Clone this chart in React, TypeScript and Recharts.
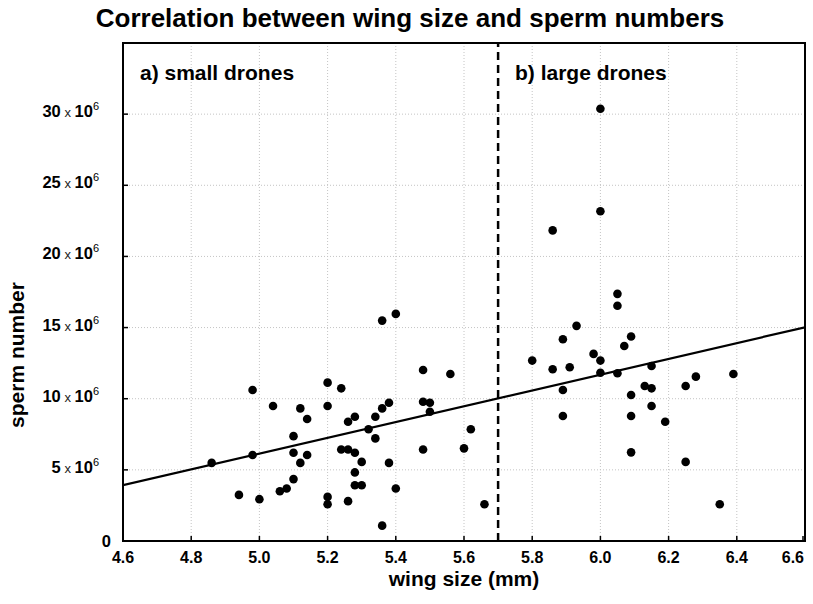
import React from 'react'
import {
  ScatterChart,
  Scatter,
  XAxis,
  YAxis,
  CartesianGrid,
  ReferenceLine,
  ReferenceArea,
} from 'recharts'

// wing size (mm) of each drone
const wingSize = [
  4.86, 4.94, 4.98, 4.98, 5.0, 5.04, 5.06, 5.08, 5.1, 5.1,
  5.1, 5.12, 5.12, 5.14, 5.14, 5.2, 5.2, 5.2, 5.2, 5.24,
  5.24, 5.26, 5.26, 5.26, 5.28, 5.28, 5.28, 5.28, 5.3, 5.3,
  5.32, 5.34, 5.34, 5.36, 5.36, 5.36, 5.38, 5.38, 5.4, 5.4,
  5.48, 5.48, 5.48, 5.5, 5.5, 5.56, 5.6, 5.62, 5.66,
  5.8, 5.86, 5.86, 5.89, 5.89, 5.89, 5.91, 5.93, 5.98, 6.0,
  6.0, 6.0, 6.0, 6.05, 6.05, 6.05, 6.07, 6.09, 6.09, 6.09,
  6.09, 6.13, 6.15, 6.15, 6.15, 6.19, 6.25, 6.25, 6.28, 6.35,
  6.39,
]

// sperm number, in millions
const spermCount = [
  5.49, 3.24, 10.61, 6.04, 2.94, 9.49, 3.5, 3.69, 7.37, 6.2,
  4.35, 9.32, 5.49, 8.57, 6.04, 11.13, 9.49, 3.1, 2.58, 10.73,
  6.43, 6.43, 8.38, 2.8, 8.73, 6.2, 4.82, 3.92, 5.56, 3.92,
  7.85, 8.73, 7.21, 9.32, 15.49, 1.08, 9.72, 5.49, 15.96, 3.69,
  12.02, 9.79, 6.43, 9.72, 9.08, 11.74, 6.51, 7.85, 2.58,
  12.68, 21.83, 12.07, 14.18, 10.61, 8.78, 12.21, 15.12, 13.15, 30.38,
  23.17, 12.68, 11.83, 17.37, 16.53, 11.79, 13.71, 14.37, 10.26, 8.78,
  6.23, 10.89, 10.73, 12.3, 9.49, 8.38, 10.89, 5.56, 11.55, 2.58,
  11.74,
]

// regression line end points
const fitWing = [4.6, 6.6]
const fitSperm = [3.92, 15.02]

const xTicks = [4.6, 4.8, 5.0, 5.2, 5.4, 5.6, 5.8, 6.0, 6.2, 6.4, 6.6]
const yTicks = [0, 5, 10, 15, 20, 25, 30]
const splitWing = 5.7

const points = wingSize.map((w, i) => ({ x: w, y: spermCount[i] }))
const fitData = fitWing.map((w, i) => ({ x: w, y: fitSperm[i] }))

const FONT = 'Arial, "Liberation Sans", sans-serif'
const TICK = 5

function BottomTick(props: any) {
  const { x, y, payload } = props
  const last = payload.value === xTicks[xTicks.length - 1]
  return (
    <g>
      <line x1={x} y1={y} x2={x} y2={y - TICK} stroke="#000" strokeWidth={1.5} />
      <text
        x={last ? x + 1 : x}
        y={y + 22}
        textAnchor={last ? 'end' : 'middle'}
        fontFamily={FONT}
        fontWeight="bold"
        fontSize={16}
        fill="#000"
      >
        {payload.value.toFixed(1)}
      </text>
    </g>
  )
}

function TopTick(props: any) {
  const { x, y } = props
  return <line x1={x} y1={y} x2={x} y2={y + TICK} stroke="#000" strokeWidth={1.5} />
}

function LeftTick(props: any) {
  const { x, y, payload } = props
  const v = payload.value
  return (
    <g>
      <line x1={x} y1={y} x2={x + TICK} y2={y} stroke="#000" strokeWidth={1.5} />
      {v === 0 ? (
        <text x={x - 12} y={y + 6} textAnchor="end" fontFamily={FONT} fontWeight="bold" fontSize={16.5} fill="#000">
          0
        </text>
      ) : (
        <text x={x - 24} y={y + 3} textAnchor="end" fontFamily={FONT} fill="#000">
          <tspan fontWeight="bold" fontSize={16.5}>{v}</tspan>
          <tspan fontSize={13} fill="#222"> x </tspan>
          <tspan fontWeight="bold" fontSize={16.5}>10</tspan>
          <tspan fontSize={11} dy={-7}>6</tspan>
        </text>
      )}
    </g>
  )
}

function RightTick(props: any) {
  const { x, y } = props
  return <line x1={x} y1={y} x2={x - TICK} y2={y} stroke="#000" strokeWidth={1.5} />
}

const Dot = (props: any) => <circle cx={props.cx} cy={props.cy} r={4.3} fill="#000" />

export default function App() {
  return (
    <div style={{ position: 'absolute', left: 0, top: 0, width: 813, height: 604, background: '#fff' }}>
      <ScatterChart width={813} height={604} margin={{ top: 43, right: 8, bottom: 3, left: 0 }}>
        <CartesianGrid stroke="#c4c4c4" strokeDasharray="1 2" />
        <XAxis
          type="number"
          dataKey="x"
          domain={[4.6, 6.6]}
          ticks={xTicks}
          allowDataOverflow
          height={60}
          tick={<BottomTick />}
          tickSize={0}
          tickMargin={0}
          axisLine={false}
          tickLine={false}
        />
        <XAxis
          xAxisId="top"
          orientation="top"
          type="number"
          domain={[4.6, 6.6]}
          ticks={xTicks}
          allowDataOverflow
          height={0}
          tick={<TopTick />}
          tickSize={0}
          tickMargin={0}
          axisLine={false}
          tickLine={false}
        />
        <YAxis
          type="number"
          dataKey="y"
          domain={[0, 35]}
          ticks={yTicks}
          allowDataOverflow
          width={123}
          tick={<LeftTick />}
          tickSize={0}
          tickMargin={0}
          axisLine={false}
          tickLine={false}
        />
        <YAxis
          yAxisId="right"
          orientation="right"
          type="number"
          domain={[0, 35]}
          ticks={yTicks}
          allowDataOverflow
          width={0}
          tick={<RightTick />}
          tickSize={0}
          tickMargin={0}
          axisLine={false}
          tickLine={false}
        />
        <ReferenceArea x1={4.6} x2={6.6} y1={0} y2={35} fill="none" stroke="#000" strokeWidth={2} />
        <ReferenceLine x={splitWing} stroke="#000" strokeWidth={2.5} strokeDasharray="8 5" />
        <Scatter
          data={fitData}
          line={{ stroke: '#000', strokeWidth: 2.2 }}
          lineType="joint"
          shape={() => <g />}
          isAnimationActive={false}
        />
        <Scatter data={points} shape={Dot} isAnimationActive={false} />
      </ScatterChart>
      <svg
        width={813}
        height={604}
        style={{ position: 'absolute', left: 0, top: 0, pointerEvents: 'none' }}
      >
        <text x={410} y={27} textAnchor="middle" fontFamily={FONT} fontWeight="bold" fontSize={26} fill="#000">
          Correlation between wing size and sperm numbers
        </text>
        <text x={140} y={80} fontFamily={FONT} fontWeight="bold" fontSize={21} fill="#000">
          a) small drones
        </text>
        <text x={515} y={80} fontFamily={FONT} fontWeight="bold" fontSize={21} fill="#000">
          b) large drones
        </text>
        <text x={464} y={586} textAnchor="middle" fontFamily={FONT} fontWeight="bold" fontSize={21} fill="#000">
          wing size (mm)
        </text>
        <text
          x={24}
          y={355}
          textAnchor="middle"
          transform="rotate(-90 24 355)"
          fontFamily={FONT}
          fontWeight="bold"
          fontSize={21}
          fill="#000"
        >
          sperm number
        </text>
      </svg>
    </div>
  )
}
